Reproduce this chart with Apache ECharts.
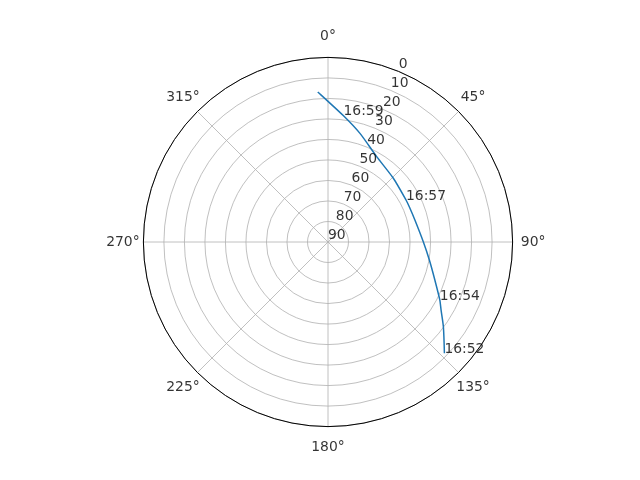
<!DOCTYPE html>
<html>
<head>
<meta charset="utf-8">
<script src="https://cdn.jsdelivr.net/npm/echarts@6/dist/echarts.min.js"></script>
<style>
html,body{margin:0;padding:0;background:#fff;}
#chart{width:640px;height:480px;}
</style>
</head>
<body>
<div id="chart"></div>
<script>
// Satellite pass: azimuth (deg, clockwise from North) and elevation (deg)
const passAz = [133.7, 126.3, 121.0, 117.4, 109.6, 100.1, 90.0, 75.8, 66.9, 61.7, 45.7, 29.7, 16.4, 7.0, 356.1];
const passEl = [11.5, 20.2, 25.7, 28.6, 34.7, 39.8, 43.5, 46.3, 46.8, 46.8, 45.5, 42.1, 34.8, 28.0, 16.7];

// Time annotations along the pass
const markTimes = ['16:52', '16:54', '16:57', '16:59'];
const markAz = [133.7, 117.4, 61.7, 7.0];
const markEl = [11.5, 28.6, 46.8, 28.0];

// Tick labels
const azTicks = [0, 45, 90, 135, 180, 225, 270, 315];
const elTicks = [0, 10, 20, 30, 40, 50, 60, 70, 80, 90];
const rLabelAngle = 22.5;     // matplotlib default radial-label position
const thetaLabelPad = -10;    // theta labels sit 10 units outside the outer ring

const FONT = 'DejaVu Sans';
const FS = 13.9;

const chart = echarts.init(document.getElementById('chart'), null, {renderer: 'canvas'});
chart.setOption({
  animation: false,
  backgroundColor: '#ffffff',
  polar: {center: [328, 242], radius: 184.6},
  angleAxis: {
    type: 'value', min: 0, max: 360, interval: 45,
    startAngle: 90, clockwise: true,
    axisLine: {show: true, lineStyle: {color: '#000000', width: 1}},
    axisTick: {show: false},
    axisLabel: {show: false},
    splitLine: {show: true, lineStyle: {color: '#b0b0b0', width: 0.8}}
  },
  radiusAxis: {
    type: 'value', min: 0, max: 90, interval: 10, inverse: true,
    axisLine: {show: false},
    axisTick: {show: false},
    axisLabel: {show: false},
    splitLine: {show: true, lineStyle: {color: '#b0b0b0', width: 0.8}}
  },
  series: [
    {
      type: 'line', coordinateSystem: 'polar',
      data: passEl.map((e, i) => [e, passAz[i]]),
      showSymbol: false, symbol: 'none', smooth: 0.25,
      lineStyle: {color: '#1f77b4', width: 1.5},
      z: 3
    },
    {
      type: 'scatter', coordinateSystem: 'polar', clip: false,
      symbolSize: 0,
      data: markTimes.map((t, i) => ({value: [markEl[i], markAz[i]], name: t})),
      label: {
        show: true, position: 'inside', align: 'left', verticalAlign: 'bottom',
        offset: [0, 3],
        formatter: p => p.name,
        color: '#000000', fontFamily: FONT, fontSize: FS
      },
      z: 5
    },
    {
      type: 'scatter', coordinateSystem: 'polar', clip: false,
      symbolSize: 0,
      data: elTicks.map(v => [v, rLabelAngle]),
      label: {
        show: true, position: 'inside', align: 'left', verticalAlign: 'bottom',
        offset: [0, 0],
        formatter: p => String(p.value[0]),
        color: '#000000', fontFamily: FONT, fontSize: FS
      },
      z: 5
    },
    {
      type: 'scatter', coordinateSystem: 'polar', clip: false,
      symbolSize: 0,
      data: azTicks.map(a => [thetaLabelPad, a]),
      label: {
        show: true, position: 'inside', align: 'center', verticalAlign: 'middle',
        formatter: p => p.value[1] + '°',
        color: '#000000', fontFamily: FONT, fontSize: FS
      },
      z: 5
    }
  ]
});
</script>
</body>
</html>
